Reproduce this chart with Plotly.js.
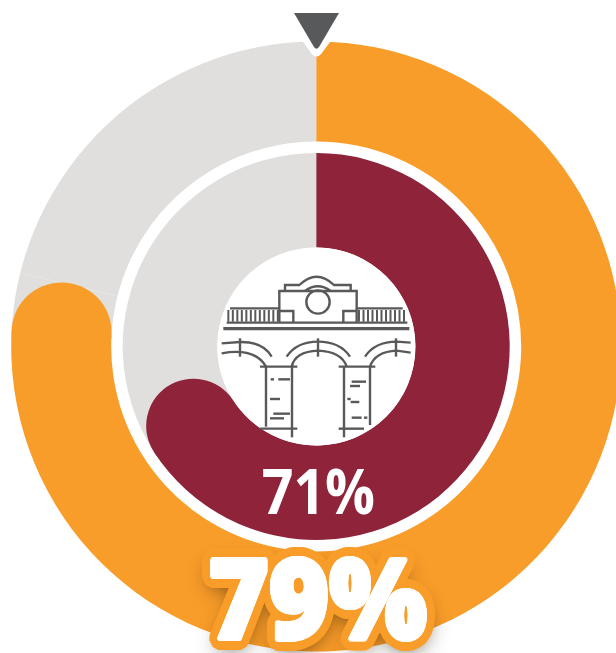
<!DOCTYPE html>
<html><head><meta charset="utf-8">
<script src="https://cdn.plot.ly/plotly-3.0.1.min.js"></script>
<style>html,body{margin:0;padding:0;background:#fff;overflow:hidden;width:616px;height:653px}#c{width:640px;height:653px}</style>
</head><body><div id="c"></div>
<script>
// DATA
const outerLabels = ['Achieved', 'Remaining'];
const outerPercent = 79;
const innerPercent = 71;
const outerText = '79%';
const innerText = '71%';
// COLOURS
const ORANGE = '#F99D2A', MAROON = '#8E233A', GREY = '#E0DFDE', ICON = '#58595B';
// GEOMETRY (pixels)
const W = 640, H = 653, CX = 316.2, CY = 346.5;
const R1 = 305, H1 = 205, R2 = 193.5, H2 = 99;
const fx = x => x / W, fy = y => 1 - y / H;

// The labelled percentage includes the round cap: the slice stops one cap earlier.
function arcEnd(pct, rOut, rIn) {
  const rm = (rOut + rIn) / 2, rc = (rOut - rIn) / 2;
  const capDeg = rc / rm * 180 / Math.PI;
  const deg = pct * 3.6 - capDeg;
  const a = deg * Math.PI / 180;
  return {body: deg / 3.6, x: CX + rm * Math.sin(a), y: CY - rm * Math.cos(a), rc};
}
const e1 = arcEnd(outerPercent, R1, H1), e2 = arcEnd(innerPercent, R2, H2);

function pie(p, e, rOut, rIn, col) {
  return {type: 'pie', labels: outerLabels, values: [e.body, 100 - e.body], sort: false,
    direction: 'clockwise', rotation: 0, hole: rIn / rOut, textinfo: 'none', hoverinfo: 'none',
    showlegend: false, marker: {colors: [col, GREY], line: {width: 0}},
    domain: {x: [fx(CX - rOut), fx(CX + rOut)], y: [fy(CY + rOut), fy(CY - rOut)]}};
}
const traces = [pie(outerPercent, e1, R1, H1, ORANGE), pie(innerPercent, e2, R2, H2, MAROON)];

const shapes = [];
function circle(x, y, r, fill, line, lw) {
  shapes.push({type: 'circle', xref: 'paper', yref: 'paper', x0: fx(x - r), x1: fx(x + r),
    y0: fy(y + r), y1: fy(y - r), fillcolor: fill, line: {color: line || fill, width: lw || 0}, layer: 'above'});
}
function path(d, o) {
  let i = 0;
  const s = d.replace(/-?\d+(\.\d+)?/g, n => { const v = +n; return (i++ % 2 ? fy(v) : fx(v)).toFixed(5); });
  shapes.push(Object.assign({type: 'path', xref: 'paper', yref: 'paper', path: s, layer: 'above'}, o));
}
// icon path given in coordinates of a 3x crop at (180,230)
const zx = v => (180 + v / 3).toFixed(2), zy = v => (230 + v / 3).toFixed(2);
function icon(d, w) {
  let i = 0;
  const s = d.replace(/-?\d+(\.\d+)?/g, n => (i++ % 2 ? zy(+n) : zx(+n)));
  path(s, {line: {color: ICON, width: w || 2.4}});
}

// faint seam in the grey track
path('M 20 272.7 L 116.7 296', {line: {color: '#E8E7E6', width: 1}});

circle(e1.x, e1.y, e1.rc, ORANGE);
circle(e2.x, e2.y, e2.rc, MAROON);
circle(316.5, CY, H2, '#ffffff');

// pointer
path('M 302 38 L 331 38 L 320 53 Q 316.5 57 313 53 Z', {fillcolor: '#ffffff', line: {color: '#ffffff', width: 3}});
path('M 294 13 L 339 13 L 319 47 Q 316.5 50.5 314 47 Z', {fillcolor: ICON, line: {width: 0}});

// icon
icon('M315 180 L315 165 L358 165 Q410 115 462 165 L512 165 L512 180');
icon('M298 278 L298 183 L530 183 L530 278');
icon('M375 183 Q413 155 452 183');
icon('M298 243 L340 243 L340 278');
icon('M530 243 L490 243 L490 278');
icon('M140 278 L682 278');
icon('M130 296 L688 296', 3.4);
icon('M150 235 L298 235');
icon('M530 235 L668 235');
for (let x = 145; x < 295; x += 13.5) icon(`M${x} 240 L${x} 275`, 2);
for (let x = 537; x < 680; x += 13.5) icon(`M${x} 240 L${x} 275`, 2);
icon('M125 340 L180 336 Q250 335 275 380');
icon('M125 370 Q225 352 258 410');
icon('M320 380 Q350 335 414 335 Q480 335 510 380');
icon('M335 410 Q345 365 414 362 Q485 365 500 410');
icon('M555 380 Q585 335 650 335 L692 338');
icon('M570 410 Q585 365 650 362 L692 368');
icon('M180 325 L180 380'); icon('M414 325 L414 380'); icon('M648 325 L648 380');
icon('M240 410 L352 410'); icon('M240 596 L352 596');
icon('M258 410 L258 590'); icon('M336 410 L336 622');
icon('M476 410 L586 410'); icon('M476 596 L552 596');
icon('M492 410 L492 622'); icon('M570 410 L570 585');
[[272,282,448],[295,330,448],[270,300,507],[280,330,551],[270,312,565],
 [515,558,455],[510,540,468],[502,512,507],[512,538,516],[515,545,563],[552,562,563]]
 .forEach(([a,b,y]) => icon(`M${a} ${y} L${b} ${y}`));
circle(+zx(414), +zy(216), 35 / 3, 'rgba(0,0,0,0)', ICON, 2.4);

// headline number: embolden with white, then a thick orange outline, then a soft drop shadow
const white = [], ring = [];
for (let k = 0; k < 12; k++) {
  const a = k / 12 * 2 * Math.PI;
  white.push(`${(2.2 * Math.cos(a)).toFixed(1)}px ${(2.2 * Math.sin(a)).toFixed(1)}px 0 #fff`);
}
for (let k = 0; k < 32; k++) {
  const a = k / 32 * 2 * Math.PI;
  ring.push(`${(10.5 * Math.cos(a)).toFixed(1)}px ${(10.5 * Math.sin(a)).toFixed(1)}px 0 ${ORANGE}`);
  ring.push(`${(6 * Math.cos(a)).toFixed(1)}px ${(6 * Math.sin(a)).toFixed(1)}px 0 ${ORANGE}`);
}
const drop = ['0 8px 18px rgba(50,30,10,0.6)', '0 10px 26px rgba(50,30,10,0.45)'];

const annotations = [
  {xref: 'paper', yref: 'paper', x: fx(318), y: fy(489), xanchor: 'center', yanchor: 'middle', showarrow: false,
   text: innerText, font: {family: 'Open Sans, sans-serif', size: 63, weight: 700, color: '#fff'}},
  {xref: 'paper', yref: 'paper', x: fx(317.5), y: fy(595), xanchor: 'center', yanchor: 'middle', showarrow: false,
   text: outerText, font: {family: 'Open Sans, sans-serif', size: 112, weight: 800, color: '#fff',
     shadow: white.concat(ring, drop).join(',')}}
];

Plotly.newPlot('c', traces, {
  width: W, height: H, margin: {l: 0, r: 0, t: 0, b: 0, pad: 0},
  paper_bgcolor: '#fff', plot_bgcolor: '#fff', showlegend: false, shapes, annotations
}, {displayModeBar: false, staticPlot: true}).then(() => {
  // both numbers are set in a condensed cut in the reference
  const squeeze = [[318, 0.88], [317.5, 0.92]];
  document.querySelectorAll('#c g.annotation').forEach((g, i) => {
    const [cx, s] = squeeze[i];
    g.setAttribute('transform', `translate(${cx},0) scale(${s},1) translate(${-cx},0)`);
  });
});
</script></body></html>
